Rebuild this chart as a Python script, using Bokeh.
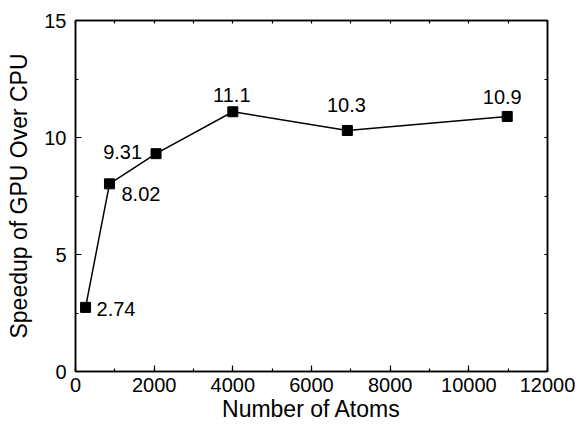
from bokeh.plotting import figure
from bokeh.models import (ColumnDataSource, LinearAxis, SingleIntervalTicker, Range1d,
                          CustomJSTickFormatter)
from bokeh.core.properties import value
from bokeh.embed import file_html
from bokeh.resources import INLINE

# ---- data ----
atoms = [256, 864, 2048, 4000, 6912, 10976]
speedup = [2.74, 8.02, 9.31, 11.1, 10.3, 10.9]
labels = ["2.74", "8.02", "9.31", "11.1", "10.3", "10.9"]

# label placement (layout, screen px offsets)
lab_dx = [11, 12, -14, -1, -1, -5]
lab_dy = [2, 10, -2, -17, -25, -19]
lab_align = ["left", "left", "right", "center", "center", "center"]

FONT = "Liberation Sans"

p = figure(width=579, height=427, output_backend="svg", toolbar_location=None,
           x_range=Range1d(0, 12000), y_range=Range1d(0, 15),
           min_border_left=75, min_border_right=32, min_border_top=20, min_border_bottom=56)
p.xgrid.visible = False
p.ygrid.visible = False
p.outline_line_color = "black"
p.outline_line_width = 1.5
p.background_fill_color = "white"
p.border_fill_color = "white"

for ax, ticker in ((p.xaxis[0], SingleIntervalTicker(interval=2000, num_minor_ticks=2)),
                   (p.yaxis[0], SingleIntervalTicker(interval=5, num_minor_ticks=2))):
    ax.ticker = ticker
    ax.major_tick_in = 6
    ax.major_tick_out = 0
    ax.minor_tick_in = 3
    ax.minor_tick_out = 0
    ax.axis_line_color = "black"
    ax.axis_line_width = 1.5
    ax.major_tick_line_width = 1.2
    ax.minor_tick_line_width = 1.2
    ax.major_label_text_font = FONT
    ax.major_label_text_font_size = "20px"
    ax.major_label_text_color = "black"
    ax.axis_label_text_font = FONT
    ax.axis_label_text_font_size = "23px"
    ax.axis_label_text_font_style = "normal"
    ax.axis_label_text_color = "black"

p.xaxis.axis_label = "Number of Atoms"
p.yaxis.axis_label = "Speedup of GPU Over CPU"
p.xaxis.major_label_standoff = 6
p.xaxis.axis_label_standoff = 1
p.yaxis.major_label_standoff = 9
p.yaxis.axis_label_standoff = 9

blank = CustomJSTickFormatter(code="return '';")
top = LinearAxis(ticker=SingleIntervalTicker(interval=1000, num_minor_ticks=0),
                 formatter=blank, major_tick_in=3, major_tick_out=0,
                 minor_tick_in=0, minor_tick_out=0, axis_line_width=1.5,
                 major_tick_line_width=1.2, major_label_standoff=0)
right = LinearAxis(ticker=SingleIntervalTicker(interval=2.5, num_minor_ticks=0),
                   formatter=blank, major_tick_in=3, major_tick_out=0,
                   minor_tick_in=0, minor_tick_out=0, axis_line_width=1.5,
                   major_tick_line_width=1.2, major_label_standoff=0)
p.add_layout(top, "above")
p.add_layout(right, "right")

src = ColumnDataSource(dict(x=atoms, y=speedup, t=labels, dx=lab_dx, dy=lab_dy, al=lab_align))
p.line("x", "y", source=src, line_color="black", line_width=1.5)
p.scatter("x", "y", source=src, marker="square", size=10, fill_color="black", line_color="black")
p.text("x", "y", text="t", source=src, x_offset="dx", y_offset="dy", text_align="al",
       text_baseline="middle", text_font=value(FONT), text_font_size="20px", text_color="black")

open("out.html", "w").write(file_html(p, INLINE))
